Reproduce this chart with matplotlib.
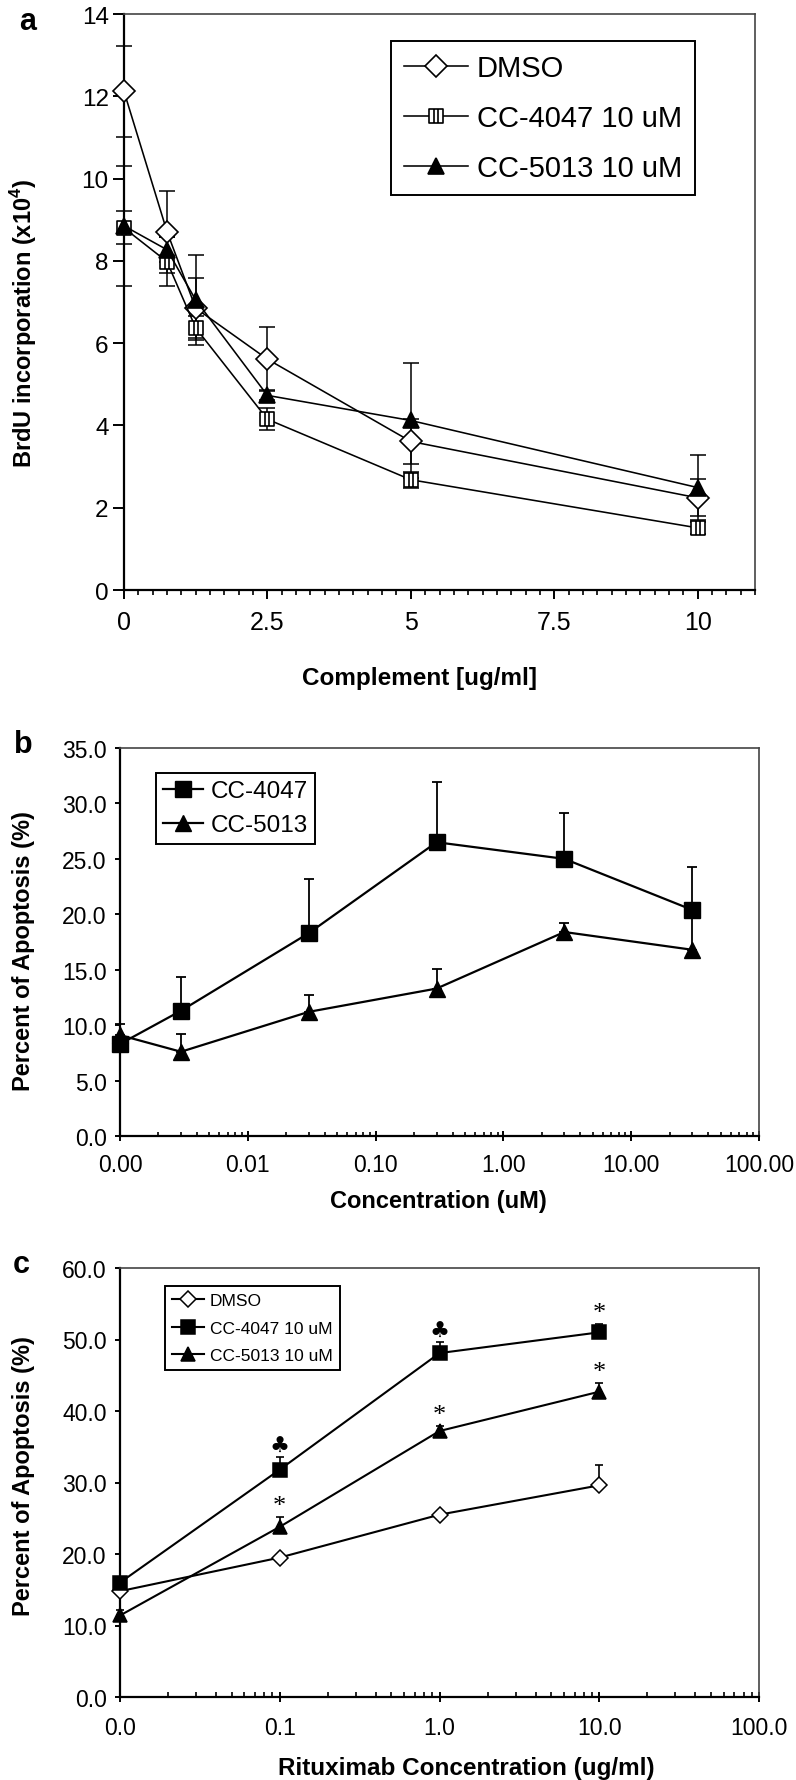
import numpy as np
import matplotlib
matplotlib.use('Agg')
import matplotlib.pyplot as plt
from matplotlib.path import Path
from matplotlib.ticker import LogLocator, NullFormatter, MultipleLocator, FormatStrFormatter

plt.rcParams['font.family'] = ['Liberation Sans', 'DejaVu Sans']
plt.rcParams['mathtext.fontset'] = 'custom'
plt.rcParams['mathtext.rm'] = 'Liberation Sans'
plt.rcParams['mathtext.bf'] = 'Liberation Sans:bold'

# ---- panel a : BrdU incorporation vs complement
comp = [0, 0.75, 1.25, 2.5, 5, 10]
a_dmso = [12.12, 8.71, 6.85, 5.61, 3.61, 2.24]
a_dmso_err = [1.1, 1.0, 0.73, 0.78, 0.55, 0.45]
a_4047 = [8.8, 7.98, 6.37, 4.15, 2.68, 1.51]
a_4047_err = [0.4, 0.6, 0.3, 0.27, 0.2, 0.15]
a_5013 = [8.85, 8.27, 7.05, 4.73, 4.12, 2.49]
a_5013_err = [1.45, 0.3, 1.1, 0.12, 1.4, 0.8]

# ---- panel b : apoptosis vs drug concentration
conc_b = [0.001, 0.003, 0.03, 0.3, 3, 30]
b_4047 = [8.3, 11.3, 18.3, 26.5, 25.0, 20.4]
b_4047_err = [0.5, 3.0, 4.9, 5.4, 4.1, 3.9]
b_5013 = [9.1, 7.6, 11.2, 13.3, 18.4, 16.8]
b_5013_err = [1.0, 1.6, 1.5, 1.8, 0.8, 3.5]

# ---- panel c : apoptosis vs rituximab
ritux = [0.01, 0.1, 1, 10]
c_dmso = [14.8, 19.5, 25.5, 29.6]
c_dmso_err = [0.5, 0.4, 0.5, 2.8]
c_4047 = [16.0, 31.8, 48.1, 51.0]
c_4047_err = [0.8, 1.7, 1.5, 1.2]
c_5013 = [11.4, 23.8, 37.2, 42.7]
c_5013_err = [0.8, 1.4, 0.7, 1.2]
c_4047_sig = ['', '\u2663', '\u2663', '*']
c_5013_sig = ['', '*', '*', '*']

W, H = 796, 1781
fig = plt.figure(figsize=(W / 100, H / 100), dpi=100)


def box(l, t, r, b):
    return [l / W, 1 - b / H, (r - l) / W, (b - t) / H]


def style(ax):
    for s in ['left', 'bottom']:
        ax.spines[s].set_linewidth(1.6)
        ax.spines[s].set_color('black')
    for s in ['top', 'right']:
        ax.spines[s].set_linewidth(1.2)
        ax.spines[s].set_color('#444444')


def ftext(x, y, s, **kw):
    fig.text(x / W, 1 - y / H, s, **kw)


sq_path = Path([(-1, -1), (1, -1), (1, 1), (-1, 1), (-1, -1),
                (-0.3, -1), (-0.3, 1), (0.3, -1), (0.3, 1)],
               [Path.MOVETO, Path.LINETO, Path.LINETO, Path.LINETO, Path.CLOSEPOLY,
                Path.MOVETO, Path.LINETO, Path.MOVETO, Path.LINETO])

# ================= panel a
ax = fig.add_axes(box(124, 15, 755, 591))
style(ax)
series = [(a_dmso, a_dmso_err, 'D', 11.5, 'white', 'DMSO'),
          (a_4047, a_4047_err, sq_path, 10, 'white', 'CC-4047 10 uM'),
          (a_5013, a_5013_err, '^', 11.5, 'black', 'CC-5013 10 uM')]
for vals, err, mk, ms, fc, lab in series:
    ax.errorbar(comp, vals, yerr=err, fmt='none', ecolor='black', elinewidth=1.1,
                capsize=6, capthick=1.1, zorder=2, clip_on=False)
    ax.plot(comp, vals, color='black', lw=1.15, marker=mk, ms=ms, mfc=fc, mec='black',
            mew=1.2, label=lab, zorder=3, clip_on=False)
ax.set_xlim(0, 11)
ax.set_ylim(0, 14)
ax.set_xticks([0, 2.5, 5, 7.5, 10])
ax.set_xticklabels(['0', '2.5', '5', '7.5', '10'])
ax.xaxis.set_minor_locator(MultipleLocator(0.25))
ax.set_yticks(range(0, 15, 2))
ax.tick_params(axis='x', which='major', direction='out', length=6.5, width=1.4, pad=8, labelsize=18)
ax.tick_params(axis='x', which='minor', direction='out', length=3.6, width=1.2)
ax.tick_params(axis='y', direction='out', length=8, width=1.4, pad=3, labelsize=17.5)
ax.legend(loc='upper left', bbox_to_anchor=(391 / W, 1 - 42 / H), bbox_transform=fig.transFigure,
          borderaxespad=0, fontsize=21, frameon=True, fancybox=False, edgecolor='black',
          framealpha=1, numpoints=1, handlelength=2.2, handletextpad=0.3,
          labelspacing=0.75, borderpad=0.45).get_frame().set_linewidth(1.4)
ftext(24, 323, 'BrdU incorporation (x10$^{\\mathbf{4}}$)', rotation=90, ha='center', va='center',
      fontsize=17, fontweight='bold')
ftext(420, 685, 'Complement [ug/ml]', ha='center', va='baseline', fontsize=17.5, fontweight='bold')
ftext(28, 30, 'a', ha='center', va='baseline', fontsize=22, fontweight='bold')

# ================= panel b
ax = fig.add_axes(box(120, 749, 759, 1137))
style(ax)
series = [(b_4047, b_4047_err, 's', 11, 'CC-4047'),
          (b_5013, b_5013_err, '^', 11, 'CC-5013')]
for vals, err, mk, ms, lab in series:
    ax.errorbar(conc_b, vals, yerr=[np.zeros(len(err)), err], fmt='none', ecolor='black',
                elinewidth=1.3, capsize=3.6, capthick=1.3, zorder=2, clip_on=False)
    ax.plot(conc_b, vals, color='black', lw=1.6, marker=mk, ms=ms, mfc='black', mec='black',
            label=lab, zorder=3, clip_on=False)
ax.set_xscale('log')
ax.set_xlim(1e-3, 1e2)
ax.set_ylim(0, 35)
ax.set_xticks([1e-3, 1e-2, 1e-1, 1, 10, 100])
ax.set_xticklabels(['0.00', '0.01', '0.10', '1.00', '10.00', '100.00'])
ax.xaxis.set_minor_locator(LogLocator(base=10, subs=np.arange(2, 10)))
ax.xaxis.set_minor_formatter(NullFormatter())
ax.set_yticks(np.arange(0, 36, 5))
ax.yaxis.set_major_formatter(FormatStrFormatter('%.1f'))
ax.tick_params(axis='x', which='major', direction='inout', length=7, width=1.4, pad=9, labelsize=16.5)
ax.tick_params(axis='x', which='minor', direction='in', length=3, width=1.2)
ax.tick_params(axis='y', direction='out', length=3.6, width=1.4, pad=6, labelsize=16.5)
ax.legend(loc='upper left', bbox_to_anchor=(156 / W, 1 - 774 / H), bbox_transform=fig.transFigure,
          borderaxespad=0, fontsize=17.5, frameon=True, fancybox=False, edgecolor='black',
          framealpha=1, numpoints=1, handlelength=1.65, handletextpad=0.3,
          labelspacing=0.5, borderpad=0.3).get_frame().set_linewidth(1.4)
ftext(24, 951, 'Percent of Apoptosis (%)', rotation=90, ha='center', va='center',
      fontsize=17, fontweight='bold')
ftext(438, 1208, 'Concentration (uM)', ha='center', va='baseline', fontsize=17, fontweight='bold')
ftext(23, 753, 'b', ha='center', va='baseline', fontsize=22, fontweight='bold')

# ================= panel c
ax = fig.add_axes(box(120, 1269, 759, 1698))
style(ax)
series = [(c_dmso, c_dmso_err, 'D', 8, 'white', 'DMSO'),
          (c_4047, c_4047_err, 's', 9.5, 'black', 'CC-4047 10 uM'),
          (c_5013, c_5013_err, '^', 10, 'black', 'CC-5013 10 uM')]
for vals, err, mk, ms, fc, lab in series:
    ax.errorbar(ritux, vals, yerr=[np.zeros(len(err)), err], fmt='none', ecolor='black',
                elinewidth=1.2, capsize=3, capthick=1.2, zorder=2, clip_on=False)
    ax.plot(ritux, vals, color='black', lw=1.5, marker=mk, ms=ms, mfc=fc, mec='black',
            mew=1.1, label=lab, zorder=3, clip_on=False)
for vals, err, sig in [(c_4047, c_4047_err, c_4047_sig), (c_5013, c_5013_err, c_5013_sig)]:
    for xv, v, e, s in zip(ritux, vals, err, sig):
        if not s:
            continue
        if s == '*':
            ax.annotate(s, (xv, v + e), xytext=(0, 0), textcoords='offset points', ha='center',
                        va='bottom', fontsize=19, family='Liberation Serif')
        else:
            ax.annotate(s, (xv, v + e), xytext=(0, 1), textcoords='offset points', ha='center',
                        va='bottom', fontsize=16, family='DejaVu Sans')
ax.set_xscale('log')
ax.set_xlim(1e-2, 1e2)
ax.set_ylim(0, 60)
ax.set_xticks([1e-2, 1e-1, 1, 10, 100])
ax.set_xticklabels(['0.0', '0.1', '1.0', '10.0', '100.0'])
ax.xaxis.set_minor_locator(LogLocator(base=10, subs=np.arange(2, 10)))
ax.xaxis.set_minor_formatter(NullFormatter())
ax.set_yticks(np.arange(0, 61, 10))
ax.yaxis.set_major_formatter(FormatStrFormatter('%.1f'))
ax.tick_params(axis='x', which='major', direction='inout', length=7, width=1.4, pad=10, labelsize=16.5)
ax.tick_params(axis='x', which='minor', direction='in', length=3.5, width=1.2)
ax.tick_params(axis='y', direction='out', length=3.6, width=1.4, pad=6, labelsize=16.5)
ax.legend(loc='upper left', bbox_to_anchor=(165 / W, 1 - 1287 / H), bbox_transform=fig.transFigure,
          borderaxespad=0, fontsize=12.5, frameon=True, fancybox=False, edgecolor='black',
          framealpha=1, numpoints=1, handlelength=1.8, handletextpad=0.35,
          labelspacing=0.7, borderpad=0.42).get_frame().set_linewidth(1.4)
ftext(24, 1476, 'Percent of Apoptosis (%)', rotation=90, ha='center', va='center',
      fontsize=17, fontweight='bold')
ftext(466, 1775, 'Rituximab Concentration (ug/ml)', ha='center', va='baseline',
      fontsize=17.5, fontweight='bold')
ftext(21, 1273, 'c', ha='center', va='baseline', fontsize=22, fontweight='bold')

fig.savefig('out.png', dpi=100)
